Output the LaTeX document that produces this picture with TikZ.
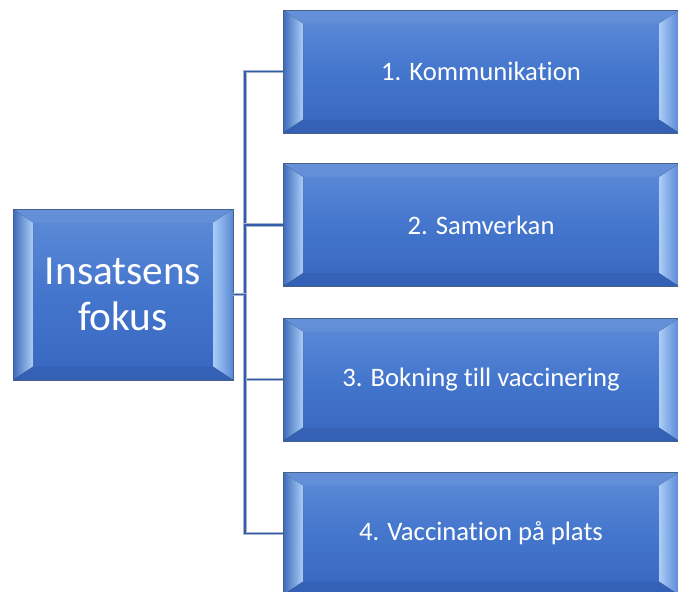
\documentclass[tikz,border=0pt]{standalone}
\usepackage{fontspec}
\setmainfont{Carlito}[Ligatures={NoCommon,NoRare,NoContextual}]
\usetikzlibrary{calc}

\definecolor{faceTop}{RGB}{94,140,216}
\definecolor{faceMid}{RGB}{68,118,205}
\definecolor{faceBot}{RGB}{56,102,190}
\definecolor{bevelLight}{RGB}{170,206,247}
\definecolor{bevelDark}{RGB}{44,86,165}
\definecolor{boxLine}{RGB}{70,96,140}
\definecolor{connBlue}{RGB}{52,92,170}
\definecolor{connEdge}{RGB}{165,180,205}

\tikzset{
  bevelbox/.style={draw=boxLine, line width=0.5pt, top color=faceTop, bottom color=faceBot, middle color=faceMid,
    text=white, align=center, inner sep=0pt,
    path picture={
      \coordinate (sw) at (path picture bounding box.south west);
      \coordinate (nw) at (path picture bounding box.north west);
      \coordinate (ne) at (path picture bounding box.north east);
      \coordinate (se) at (path picture bounding box.south east);
      % left and right bevel
      \fill[left color=faceMid!90!black, right color=bevelLight] (sw) -- (nw) -- ($(nw)+(15pt,-10pt)$) -- ($(sw)+(15pt,10pt)$) -- cycle;
      \fill[left color=bevelLight, right color=faceMid!80!bevelLight] (se) -- (ne) -- ($(ne)+(-15pt,-10pt)$) -- ($(se)+(-15pt,10pt)$) -- cycle;
      % top and bottom bevel
      \fill[faceTop!85!white, opacity=0.3] (nw) -- (ne) -- ($(ne)+(-15pt,-10pt)$) -- ($(nw)+(15pt,-10pt)$) -- cycle;
      \fill[bevelDark, opacity=0.35] (sw) -- (se) -- ($(se)+(-15pt,10pt)$) -- ($(sw)+(15pt,10pt)$) -- cycle;
    }},
  mainbox/.style={bevelbox, minimum width=165pt, minimum height=128pt, font=\fontsize{31}{34.5}\selectfont},
  itembox/.style={bevelbox, minimum width=297pt, minimum height=92pt, font=\fontsize{20}{24}\selectfont},
  conn/.style={draw=connBlue, line width=1.3pt, preaction={draw=connEdge, line width=2.6pt}}
}

\begin{document}
\begin{tikzpicture}[x=0.75pt, y=-0.75pt]
    \useasboundingbox (0,0) rectangle (678,592);

    % Main box
    \node[mainbox] (fokus) at (123,294.5) {Insatsens\\fokus};

    % Trunk point
    \coordinate (trunk) at (245,294.5);

    % Connectors (behind the boxes)
    \foreach \y/\name in {71.5/komm, 225/samv, 379.5/bokn, 533.5/vacc} {
        \coordinate (\name w) at (283,\y);
        \draw[conn] (fokus.east) -- (trunk) |- (\name w);
      }

    % Item boxes
    \foreach \y/\name/\txt in {71.5/komm/1. Kommunikation, 225/samv/2. Samverkan,
        379.5/bokn/3. Bokning till vaccinering, 533.5/vacc/4. Vaccination på plats} {
        \node[itembox] (\name) at (481,\y) {\txt};
      }
  \end{tikzpicture}
\end{document}
